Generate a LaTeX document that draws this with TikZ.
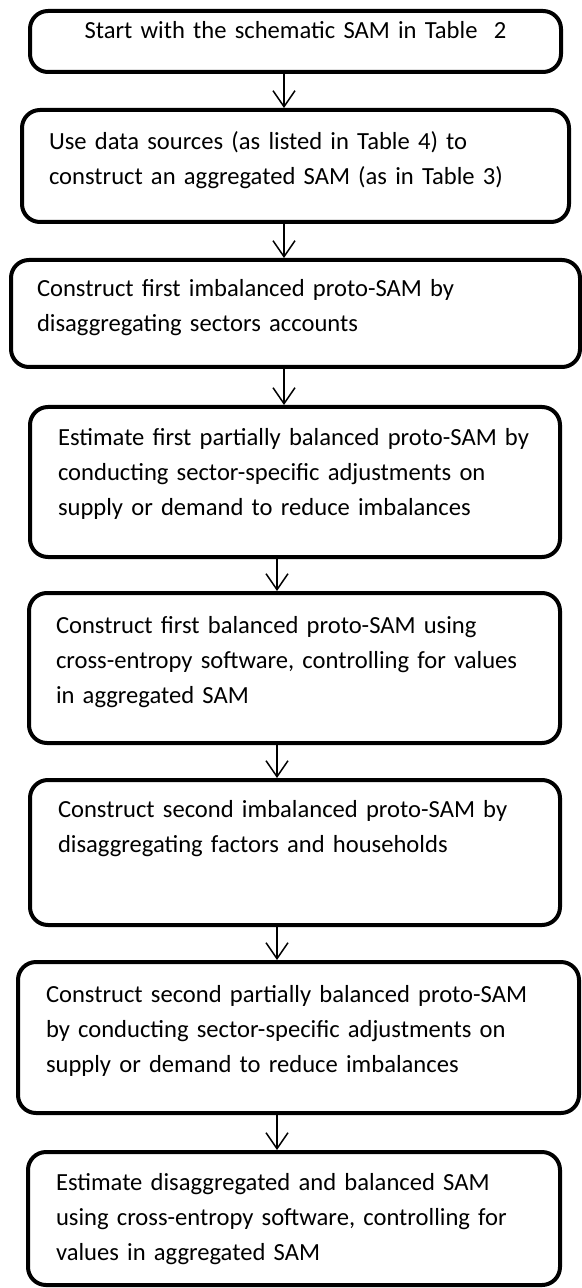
\documentclass[tikz,border=0pt]{standalone}
\usepackage{fontspec}
\setmainfont{Carlito}
\usepackage{tikz}
\usetikzlibrary{positioning,arrows.meta,calc}

\tikzset{
  stepbox/.style={draw, line width=2pt, rounded corners=9pt, anchor=north west,
    outer sep=0pt, inner sep=0pt, align=left,
    font=\fontsize{12.3}{17.5}\selectfont},
  textpad/.style={execute at begin node={\leftskip=#1}},
  flow/.style={line width=0.75pt, -{Straight Barb[length=8pt,width=11pt]},
    shorten <=1pt, shorten >=1pt}
}

\begin{document}
\begin{tikzpicture}[x=0.5pt, y=-0.5pt]
    % page frame, one unit = one pixel
    \useasboundingbox (0,0) rectangle (582,1288);
    % lines the arrows run down
    \coordinate (axisA) at (284,0);
    \coordinate (axisB) at (277,0);
    % Steps
    \node[stepbox, align=center, text width=265.5pt, text height=14pt, text depth=16.5pt]
        (start) at (30,11) {Start with the schematic SAM in Table\ \ 2};
    \node[stepbox, textpad=13.5pt, text width=273.5pt, text height=20pt, text depth=36pt]
        (aggr) at (22,110) {Use data sources (as listed in Table 4) to\\
        construct an aggregated SAM (as in Table 3)};
    \node[stepbox, textpad=13pt, text width=284.5pt, text height=18.5pt, text depth=35pt]
        (imbA) at (11,260) {Construct first imbalanced proto-SAM by\\
        disaggregating sectors accounts};
    \node[stepbox, textpad=14pt, text width=265pt, text height=19pt, text depth=56pt]
        (partA) at (30,407) {Estimate first partially balanced proto-SAM by\\
        conducting sector-specific adjustments on\\
        supply or demand to reduce imbalances};
    \node[stepbox, textpad=13.5pt, text width=265.5pt, text height=20pt, text depth=55pt]
        (balA) at (29,593) {Construct first balanced proto-SAM using\\
        cross-entropy software, controlling for values\\
        in aggregated SAM};
    \node[stepbox, textpad=14pt, text width=265pt, text height=18.5pt, text depth=54pt]
        (imbB) at (30,780) {Construct second imbalanced proto-SAM by\\
        disaggregating factors and households};
    \node[stepbox, textpad=14pt, text width=280.5pt, text height=20pt, text depth=55.5pt]
        (partB) at (18,962) {Construct second partially balanced proto-SAM\\
        by conducting sector-specific adjustments on\\
        supply or demand to reduce imbalances};
    \node[stepbox, textpad=14pt, text width=266pt, text height=19pt, text depth=47.5pt]
        (final) at (28,1152) {Estimate disaggregated and balanced SAM\\
        using cross-entropy software, controlling for\\
        values in aggregated SAM};
    % Arrows
    \draw[flow] (start.south -| axisA) -- (aggr.north -| axisA);
    \draw[flow] (aggr.south -| axisA) -- (imbA.north -| axisA);
    \draw[flow] (imbA.south -| axisA) -- (partA.north -| axisA);
    \draw[flow] (partA.south -| axisB) -- (balA.north -| axisB);
    \draw[flow] (balA.south -| axisB) -- (imbB.north -| axisB);
    \draw[flow] (imbB.south -| axisB) -- (partB.north -| axisB);
    \draw[flow] (partB.south -| axisB) -- (final.north -| axisB);
\end{tikzpicture}
\end{document}
